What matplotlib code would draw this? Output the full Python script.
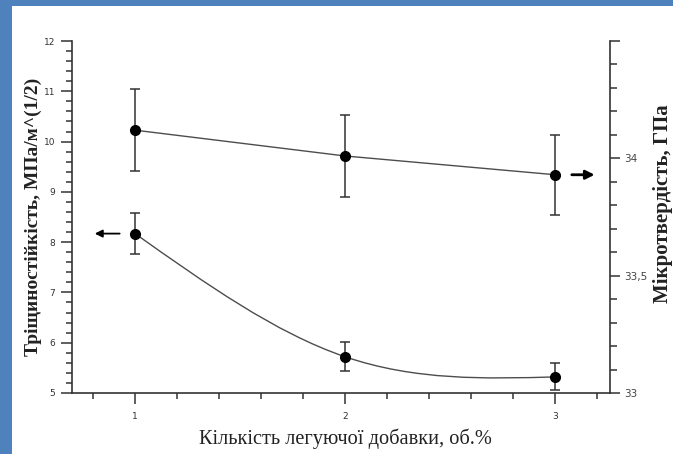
import numpy as np
import matplotlib
matplotlib.use('Agg')
import matplotlib.pyplot as plt
from matplotlib.path import Path
from matplotlib.patches import PathPatch, Rectangle

# data
additive = [1, 2, 3]
toughness = [8.17, 5.72, 5.32]
toughness_err = [0.41, 0.29, 0.27]
hardness = [34.12, 34.01, 33.93]
hardness_err = [0.175, 0.175, 0.17]

left_ticks = [5, 6, 7, 8, 9, 10, 11, 12]
right_ticks = [33, 33.5, 34, 34.5]
right_labels = ['33', '33,5', '34', '']
x_ticks = [1, 2, 3]


def spline_path(xs, ys):
    # natural cubic spline through the points, drawn as bezier segments
    xs = np.asarray(xs, float)
    ys = np.asarray(ys, float)
    n = len(xs)
    h = np.diff(xs)
    A = np.zeros((n, n))
    b = np.zeros(n)
    A[0, 0] = A[-1, -1] = 1
    for i in range(1, n - 1):
        A[i, i - 1] = h[i - 1]
        A[i, i] = 2 * (h[i - 1] + h[i])
        A[i, i + 1] = h[i]
        b[i] = 6 * ((ys[i + 1] - ys[i]) / h[i] - (ys[i] - ys[i - 1]) / h[i - 1])
    M = np.linalg.solve(A, b)
    verts = [(xs[0], ys[0])]
    codes = [Path.MOVETO]
    for i in range(n - 1):
        s = (ys[i + 1] - ys[i]) / h[i]
        d0 = s - h[i] * (2 * M[i] + M[i + 1]) / 6
        d1 = s + h[i] * (M[i] + 2 * M[i + 1]) / 6
        verts += [(xs[i] + h[i] / 3, ys[i] + d0 * h[i] / 3),
                  (xs[i + 1] - h[i] / 3, ys[i + 1] - d1 * h[i] / 3),
                  (xs[i + 1], ys[i + 1])]
        codes += [Path.CURVE4] * 3
    return Path(verts, codes)


fig = plt.figure(figsize=(6.73, 4.54), dpi=100, facecolor='#4F81BD')
fig.patches.append(Rectangle((12 / 673, 0), 1, 1 - 6 / 454, transform=fig.transFigure,
                             facecolor='white', edgecolor='none', zorder=-10))

ax = fig.add_axes([72 / 673, 61 / 454, 538 / 673, 352 / 454])
ax.set_facecolor('none')
ax2 = ax.twinx()

spine_col = '#333333'
for s in ['top', 'right']:
    ax.spines[s].set_visible(False)
for s in ['top', 'left', 'bottom']:
    ax2.spines[s].set_visible(False)
for sp in [ax.spines['left'], ax.spines['bottom'], ax2.spines['right']]:
    sp.set_color(spine_col)
    sp.set_linewidth(1.2)

# lower curve - fracture toughness (left axis)
ax.add_patch(PathPatch(spline_path(additive, toughness), fill=False,
                       edgecolor='#4d4d4d', linewidth=1.0))
ax.errorbar(additive, toughness, yerr=toughness_err, fmt='o', color='black',
            markersize=7, ecolor='#333333', elinewidth=1.1, capsize=3.5, capthick=1.1)

# upper curve - microhardness (right axis)
ax2.plot(additive, hardness, '-', color='#4d4d4d', linewidth=1.0)
ax2.errorbar(additive, hardness, yerr=hardness_err, fmt='o', color='black',
             markersize=7, ecolor='#333333', elinewidth=1.1, capsize=3.5, capthick=1.1)

ax.annotate('', xy=(0.795, toughness[0]), xytext=(0.94, toughness[0]),
            arrowprops=dict(arrowstyle='-|>', color='black', lw=1.3, mutation_scale=11))
ax2.annotate('', xy=(3.2, hardness[2]), xytext=(3.065, hardness[2]),
             arrowprops=dict(arrowstyle='-|>', color='black', lw=2.0, mutation_scale=13))

ax.set_xlim(0.7, 3.26)
ax.set_ylim(5, 12)
ax2.set_ylim(33, 34.5)

ax.set_xticks(x_ticks)
ax.set_xticks(np.arange(0.8, 3.21, 0.2), minor=True)
ax.set_yticks(left_ticks)
ax.set_yticks(np.arange(5, 12.01, 0.2), minor=True)
ax2.set_yticks(right_ticks)
ax2.set_yticklabels(right_labels)
ax2.set_yticks(np.arange(33, 34.51, 0.1), minor=True)

ax.tick_params(axis='both', which='major', length=8, width=1.1, color=spine_col,
               labelsize=6.5, labelcolor='#333333', pad=4)
ax.tick_params(axis='x', which='major', pad=6)
ax.tick_params(axis='both', which='minor', length=4.5, width=1.1, color=spine_col)
ax2.tick_params(axis='y', which='major', length=7.5, width=1.1, color=spine_col,
                labelsize=7.5, labelcolor='#444444', pad=3)
ax2.tick_params(axis='y', which='minor', length=5, width=1.1, color=spine_col)

ax.set_xlabel('Кількість легуючої добавки, об.%', family='Liberation Serif',
              fontsize=14.7, color='#222222')
ax.xaxis.set_label_coords(0.509, -0.10)
ax.set_ylabel('Тріщиностійкість, МПа/м^(1/2)', family='Liberation Serif',
              fontsize=14, fontweight='bold', color='#222222')
ax.yaxis.set_label_coords(-0.056, 0.5)
ax2.set_ylabel('Мікротвердість, ГПа', family='Liberation Serif',
               fontsize=15, fontweight='bold', color='#222222', rotation=90)
ax2.yaxis.set_label_coords(1.08, 0.537)

fig.savefig('out.png', dpi=100, facecolor=fig.get_facecolor())
